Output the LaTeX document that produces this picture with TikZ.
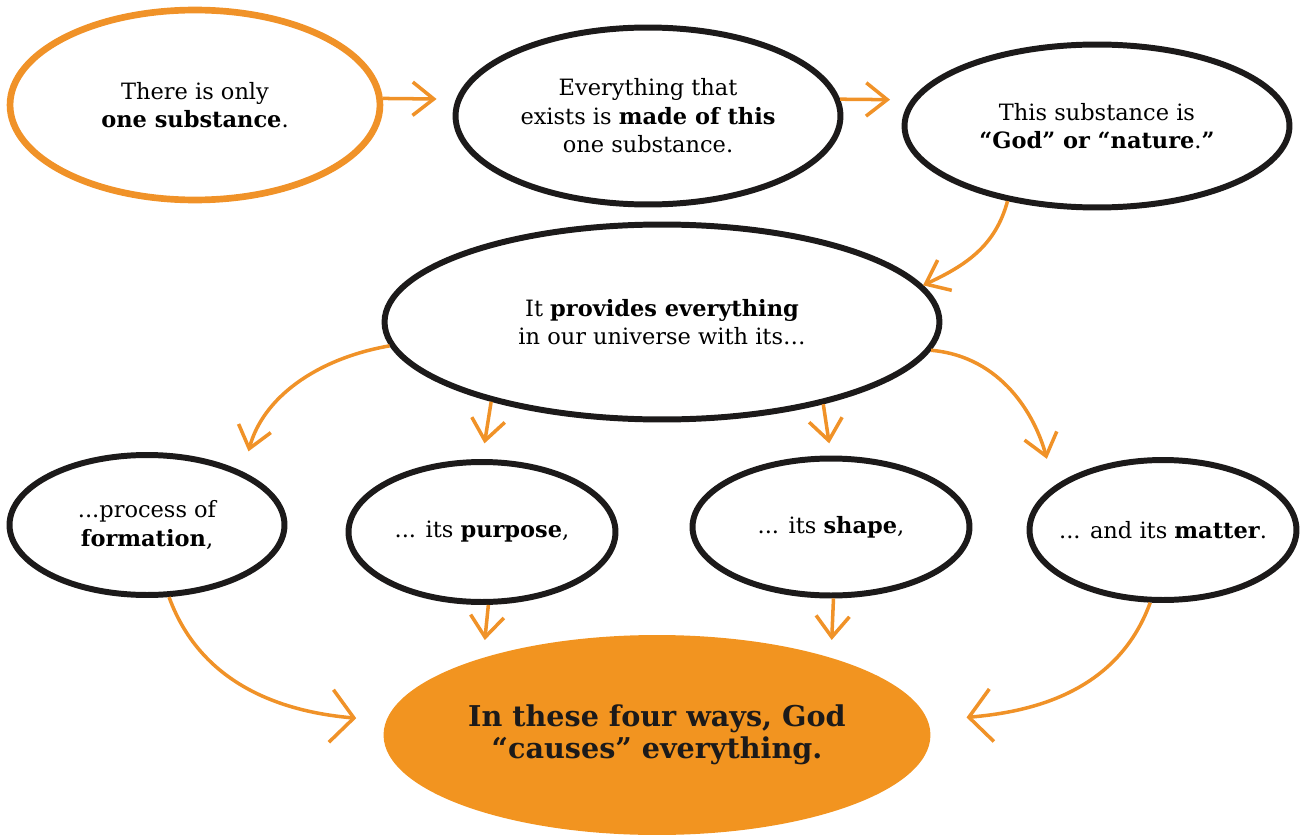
\documentclass[tikz,border=0pt]{standalone}
\usepackage{fontspec}
\setmainfont{DejaVu Serif}
\usepackage{xcolor}
\usetikzlibrary{arrows.meta, shapes.geometric}
\definecolor{pen}{RGB}{28,26,26}
\definecolor{marker}{RGB}{240,146,40}
\definecolor{blob}{RGB}{242,148,32}

\begin{document}
\begin{tikzpicture}[x=0.02cm, y=0.02cm, font=\fontsize{12.8}{16.2}\selectfont,
    bubble/.style={ellipse, draw=pen, line width=3.4pt, inner sep=0pt, align=center},
    flow/.style={-{Straight Barb[length=12pt, width=19pt]}, marker, line width=2pt},
    bigflow/.style={flow, -{Straight Barb[length=13pt, width=30pt]}}]

\useasboundingbox (0, 0) rectangle (1312, -838);

% ── Top row: the one substance ───────────────────────────────────
\node[bubble, draw=marker, line width=3.8pt, minimum width=7.4cm, minimum height=3.8cm] (one) at (195, -105)
    {There is only\\\textbf{one substance}.};
\node[bubble, minimum width=7.7cm, minimum height=3.54cm] (made) at (648, -116)
    {Everything that\\exists is \textbf{made of this}\\one substance.};
\node[bubble, minimum width=7.7cm, minimum height=3.26cm] (nature) at (1097, -126)
    {This substance is\\\textbf{“God” or “nature}.\textbf{”}};

\draw[flow, shorten >=11pt] (one.2) -- (made.175);
\draw[flow, shorten >=12pt] (made.5) -- (nature.172);

% ── Middle: what it provides ─────────────────────────────────────
\node[bubble, minimum width=11.1cm, minimum height=3.9cm] (provides) at (662, -322)
    {It \textbf{provides everything}\\in our universe with its…};

\draw[flow] (nature.220) to[out=-105, in=25] (provides.8);

% ── Bottom row: the four ways ────────────────────────────────────
\node[bubble, minimum width=5.5cm, minimum height=2.8cm] (formation) at (147, -525)
    {...process of\\\textbf{formation},};
\node[bubble, minimum width=5.34cm, minimum height=2.8cm] (purpose) at (482, -532)
    {... its \textbf{purpose},};
\node[bubble, minimum width=5.54cm, minimum height=2.74cm] (shape) at (831, -527)
    {... its \textbf{shape},};
\node[bubble, inner xsep=-14pt, minimum width=5.34cm, minimum height=2.8cm] (matter) at (1163, -530)
    {... and its \textbf{matter}.};

\draw[flow, shorten >=12pt] (provides.185) to[out=190, in=75] (formation.29);
\draw[flow, shorten >=9pt] (provides.205) -- (purpose.north);
\draw[flow, shorten >=7pt] (provides.-27) -- (shape.north);
\draw[flow, shorten >=16pt] (provides.-6) to[out=-5, in=105] (matter.158);

% ── Result ───────────────────────────────────────────────────────
\node[ellipse, fill=blob, inner sep=0pt, align=center, text=pen,
      minimum width=10.94cm, minimum height=4cm,
      font=\fontsize{16.3}{18.5}\selectfont\bfseries] (causes) at (657, -735)
    {In these four ways, God\\“causes” everything.};

\draw[bigflow, shorten >=17pt] (formation.-73) to[out=-70, in=175] (causes.177);
\draw[flow, shorten >=10pt] (purpose.-85) -- (causes.156);
\draw[flow, shorten >=10pt] (shape.-88) -- (causes.24);
\draw[bigflow, shorten >=22pt] (matter.-100) to[out=-110, in=5] (causes.3);

\end{tikzpicture}
\end{document}
